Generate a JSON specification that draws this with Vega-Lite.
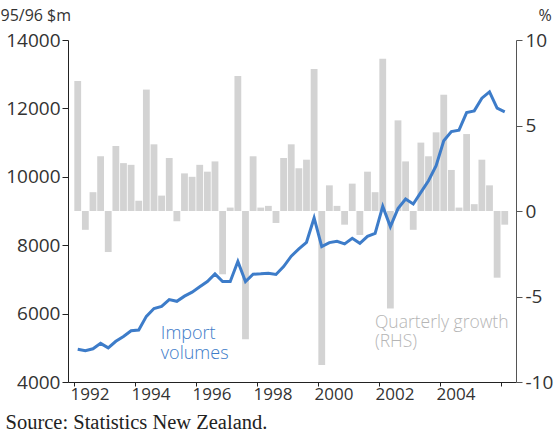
{
  "$schema": "https://vega.github.io/schema/vega-lite/v6.json",
  "width": 448,
  "height": 342,
  "autosize": {"type": "none"},
  "padding": {"left": 68, "top": 40, "right": 40, "bottom": 53},
  "background": "white",
  "config": {"view": {"stroke": null}, "font": "Open Sans", "axis": {"grid": false}},
  "data": {"values": [
    {"t": 1992.125, "growth": 7.6, "volume": 4960},
    {"t": 1992.375, "growth": -1.1, "volume": 4915},
    {"t": 1992.625, "growth": 1.1, "volume": 4970},
    {"t": 1992.875, "growth": 3.2, "volume": 5130},
    {"t": 1993.125, "growth": -2.4, "volume": 5000},
    {"t": 1993.375, "growth": 3.8, "volume": 5190},
    {"t": 1993.625, "growth": 2.8, "volume": 5330},
    {"t": 1993.875, "growth": 2.7, "volume": 5500},
    {"t": 1994.125, "growth": 0.6, "volume": 5520},
    {"t": 1994.375, "growth": 7.1, "volume": 5920},
    {"t": 1994.625, "growth": 3.9, "volume": 6150},
    {"t": 1994.875, "growth": 0.9, "volume": 6210},
    {"t": 1995.125, "growth": 3.1, "volume": 6410},
    {"t": 1995.375, "growth": -0.6, "volume": 6360},
    {"t": 1995.625, "growth": 2.2, "volume": 6510},
    {"t": 1995.875, "growth": 2.0, "volume": 6626},
    {"t": 1996.125, "growth": 2.7, "volume": 6784},
    {"t": 1996.375, "growth": 2.3, "volume": 6938},
    {"t": 1996.625, "growth": 2.9, "volume": 7163},
    {"t": 1996.875, "growth": -3.7, "volume": 6938},
    {"t": 1997.125, "growth": 0.2, "volume": 6938},
    {"t": 1997.375, "growth": 7.9, "volume": 7522},
    {"t": 1997.625, "growth": -7.5, "volume": 6938},
    {"t": 1997.875, "growth": 3.2, "volume": 7151},
    {"t": 1998.125, "growth": 0.2, "volume": 7163},
    {"t": 1998.375, "growth": 0.3, "volume": 7181},
    {"t": 1998.625, "growth": -0.7, "volume": 7143},
    {"t": 1998.875, "growth": 3.1, "volume": 7376},
    {"t": 1999.125, "growth": 3.9, "volume": 7680},
    {"t": 1999.375, "growth": 2.5, "volume": 7892},
    {"t": 1999.625, "growth": 3.0, "volume": 8085},
    {"t": 1999.875, "growth": 8.3, "volume": 8797},
    {"t": 2000.125, "growth": -9.0, "volume": 7960},
    {"t": 2000.375, "growth": 1.5, "volume": 8076},
    {"t": 2000.625, "growth": 0.3, "volume": 8115},
    {"t": 2000.875, "growth": -0.8, "volume": 8038},
    {"t": 2001.125, "growth": 1.6, "volume": 8202},
    {"t": 2001.375, "growth": -1.4, "volume": 8056},
    {"t": 2001.625, "growth": 2.3, "volume": 8260},
    {"t": 2001.875, "growth": 1.1, "volume": 8348},
    {"t": 2002.125, "growth": 8.9, "volume": 9136},
    {"t": 2002.375, "growth": -5.7, "volume": 8543},
    {"t": 2002.625, "growth": 5.3, "volume": 9070},
    {"t": 2002.875, "growth": 2.9, "volume": 9351},
    {"t": 2003.125, "growth": -1.1, "volume": 9205},
    {"t": 2003.375, "growth": 4.0, "volume": 9544},
    {"t": 2003.625, "growth": 3.2, "volume": 9886},
    {"t": 2003.875, "growth": 4.6, "volume": 10323},
    {"t": 2004.125, "growth": 6.8, "volume": 11053},
    {"t": 2004.375, "growth": 2.4, "volume": 11324},
    {"t": 2004.625, "growth": 0.2, "volume": 11365},
    {"t": 2004.875, "growth": 4.5, "volume": 11879},
    {"t": 2005.125, "growth": 0.4, "volume": 11928},
    {"t": 2005.375, "growth": 3.0, "volume": 12299},
    {"t": 2005.625, "growth": 1.5, "volume": 12483},
    {"t": 2005.875, "growth": -3.9, "volume": 12007},
    {"t": 2006.125, "growth": -0.8, "volume": 11899}
  ]},
  "layer": [
    {
      "layer": [
        {
          "mark": {"type": "bar", "size": 6.8, "color": "#d3d3d3"},
          "encoding": {
            "x": {
              "field": "t", "type": "quantitative",
              "title": "Source: Statistics New Zealand.",
              "scale": {"domain": [1991.97, 2006.33], "nice": false, "zero": false},
              "axis": {
                "values": [1992, 1993, 1994, 1995, 1996, 1997, 1998, 1999, 2000, 2001, 2002, 2003, 2004, 2005, 2006],
                "labelExpr": "(datum.value % 2 == 0 && datum.value < 2005) ? datum.value : ''",
                "labelOffset": 15.6, "labelFlush": false, "labelOverlap": false,
                "tickSize": 4, "labelPadding": 0,
                "domainColor": "#222", "tickColor": "#222",
                "labelFontSize": 17, "labelColor": "#333", "labelFont": "Open Sans",
                "titleFont": "Liberation Serif", "titleFontSize": 20.5, "titleFontWeight": "normal",
                "titleColor": "#222", "titleAlign": "left", "titleAnchor": null,
                "titleX": -63, "titleY": 46, "titleBaseline": "alphabetic"
              }
            },
            "y": {
              "field": "growth", "type": "quantitative", "title": "%",
              "scale": {"domain": [-10, 10], "nice": false},
              "axis": {
                "orient": "right", "values": [-10, -5, 0, 5, 10],
                "tickSize": 6, "labelPadding": 3,
                "domainColor": "#555", "tickColor": "#555",
                "labelFontSize": 19, "labelColor": "#333",
                "labelExpr": "replace(datum.label, '\u2212', '-')",
                "titleAngle": 0, "titleX": 22, "titleY": -20, "titleAlign": "left",
                "titleBaseline": "alphabetic", "titleFontSize": 16, "titleFontWeight": "normal",
                "titleColor": "#333"
              }
            }
          }
        },
        {
          "data": {"values": [{}]},
          "mark": {"type": "text", "align": "left", "baseline": "alphabetic", "fontSize": 17.5, "fontWeight": 300, "lineHeight": 19, "color": "#b5b5b5"},
          "encoding": {
            "x": {"datum": 2001.87, "type": "quantitative", "title": "Source: Statistics New Zealand."},
            "y": {"datum": -6.83, "type": "quantitative", "title": "%"},
            "text": {"value": ["Quarterly growth", "(RHS)"]}
          }
        }
      ]
    },
    {
      "layer": [
        {
          "mark": {"type": "line", "color": "#3d7cc9", "strokeWidth": 3, "strokeJoin": "miter"},
          "encoding": {
            "x": {"field": "t", "type": "quantitative", "title": "Source: Statistics New Zealand."},
            "y": {
              "field": "volume", "type": "quantitative", "title": "95/96 $m",
              "scale": {"domain": [4000, 14000], "nice": false, "zero": false},
              "axis": {
                "orient": "left", "values": [4000, 6000, 8000, 10000, 12000, 14000], "format": "d",
                "tickSize": 6, "labelPadding": 2,
                "domainColor": "#222", "tickColor": "#222",
                "labelFontSize": 19, "labelColor": "#333",
                "titleAngle": 0, "titleX": -68, "titleY": -20, "titleAlign": "left",
                "titleBaseline": "alphabetic", "titleFontSize": 16, "titleFontWeight": "normal",
                "titleColor": "#333"
              }
            }
          }
        },
        {
          "data": {"values": [{}]},
          "mark": {"type": "text", "align": "left", "baseline": "alphabetic", "fontSize": 18, "fontWeight": 300, "lineHeight": 20, "color": "#3d7cc9"},
          "encoding": {
            "x": {"datum": 1994.85, "type": "quantitative", "title": "Source: Statistics New Zealand."},
            "y": {"datum": 5246, "type": "quantitative", "title": "95/96 $m"},
            "text": {"value": ["Import", "volumes"]}
          }
        }
      ]
    }
  ],
  "resolve": {"scale": {"y": "independent"}}
}
